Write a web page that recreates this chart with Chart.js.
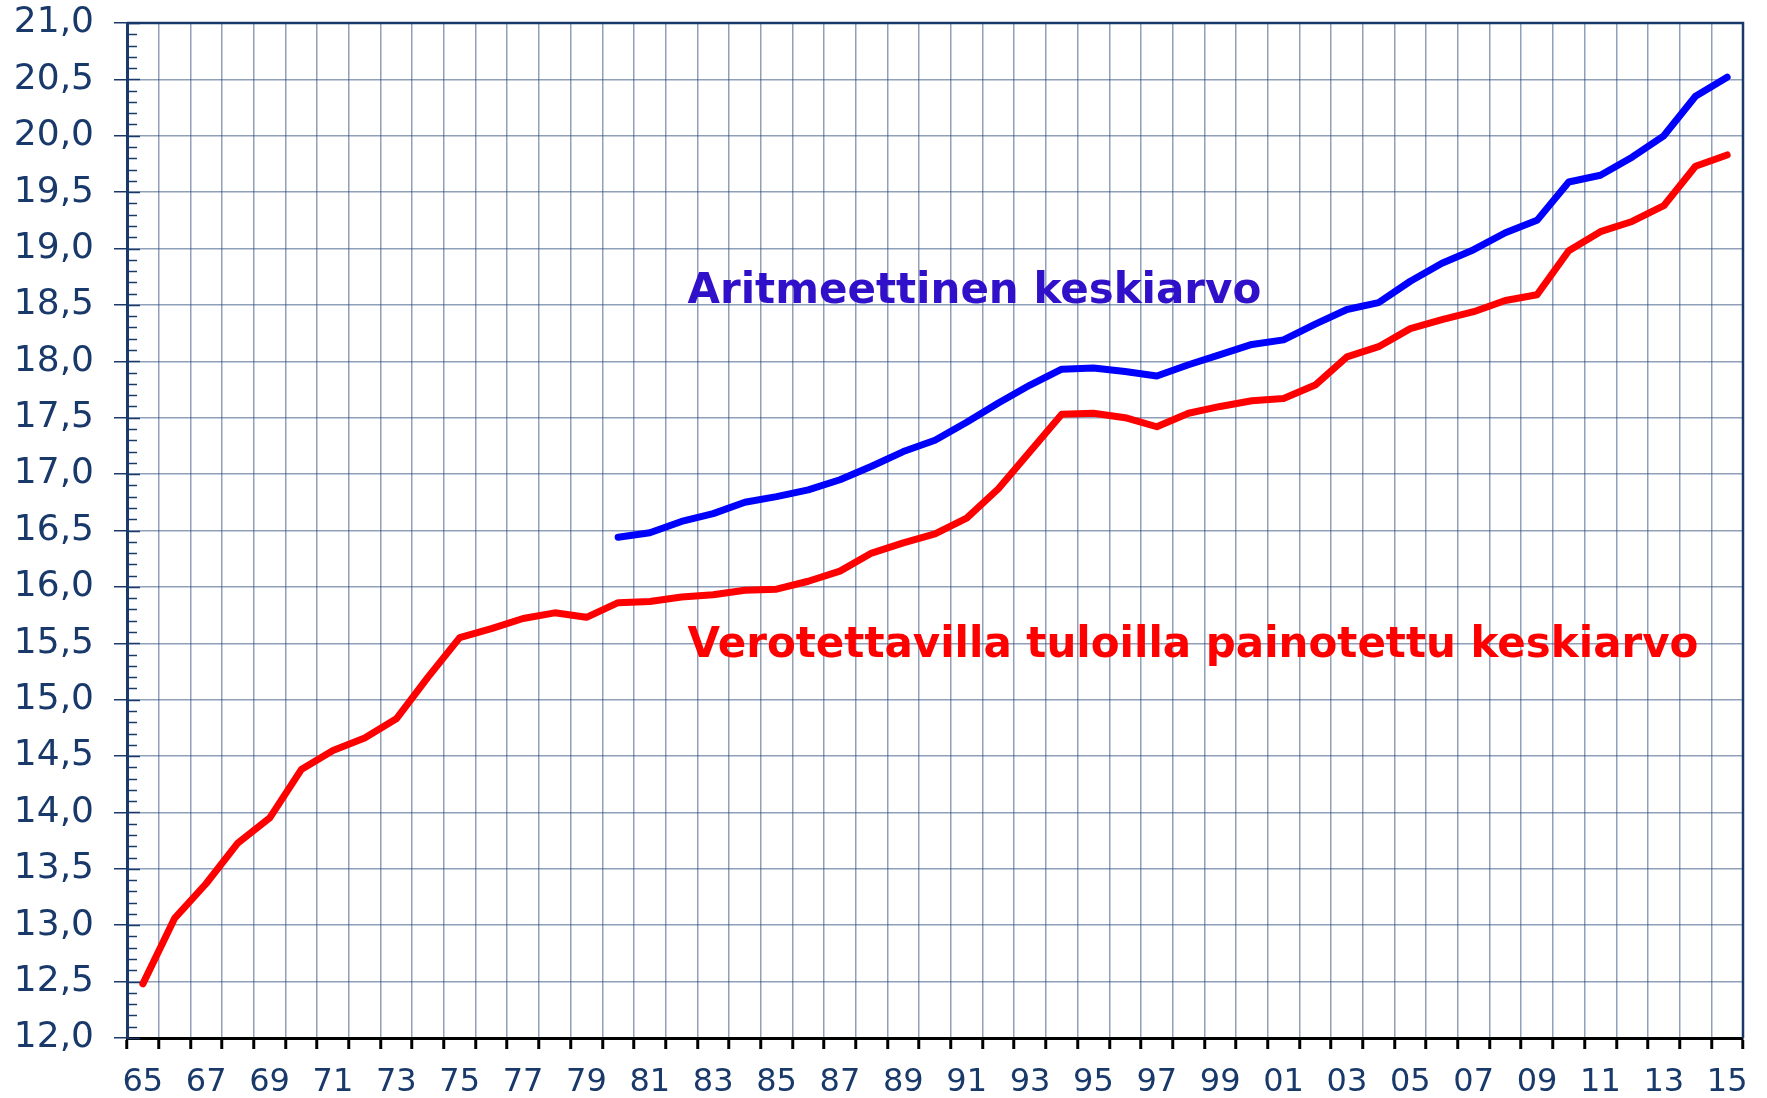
<!DOCTYPE html>
<html lang="fi">
<head>
<meta charset="UTF-8">
<title>Keskiarvot 1965-2015</title>
<script src="https://cdn.jsdelivr.net/npm/chart.js@4.4.1/dist/chart.umd.min.js"></script>
<style>
    html, body { margin: 0; padding: 0; background: #fff; }
    .chart-wrap { width: 1767px; height: 1098px; position: relative; }
</style>
</head>
<body>
<div class="chart-wrap"><canvas id="taxChart"></canvas></div>
<script>
// Vuodet 1965-2015 (kaksinumeroiset)
const years = ['65','66','67','68','69','70','71','72','73','74','75','76','77','78','79',
    '80','81','82','83','84','85','86','87','88','89','90','91','92','93','94','95','96','97','98','99',
    '00','01','02','03','04','05','06','07','08','09','10','11','12','13','14','15'];

// Verotettavilla tuloilla painotettu keskiarvo
const weightedAvg = [12.48, 13.06, 13.37, 13.73, 13.95, 14.38, 14.55, 14.66, 14.83, 15.20,
    15.55, 15.63, 15.72, 15.77, 15.73, 15.86, 15.87, 15.91, 15.93, 15.97,
    15.98, 16.05, 16.14, 16.30, 16.39, 16.47, 16.61, 16.87, 17.20, 17.53,
    17.54, 17.50, 17.42, 17.54, 17.60, 17.65, 17.67, 17.79, 18.04, 18.13,
    18.29, 18.37, 18.44, 18.54, 18.59, 18.98, 19.15, 19.24, 19.38, 19.73, 19.83];

// Aritmeettinen keskiarvo (alkaa 1980)
const arithAvg = [null, null, null, null, null, null, null, null, null, null,
    null, null, null, null, null, 16.44, 16.48, 16.58, 16.65, 16.75,
    16.80, 16.86, 16.95, 17.07, 17.20, 17.30, 17.46, 17.63, 17.79, 17.93,
    17.94, 17.91, 17.87, 17.97, 18.06, 18.15, 18.19, 18.33, 18.46, 18.52,
    18.71, 18.87, 18.99, 19.14, 19.25, 19.59, 19.65, 19.81, 20.00, 20.35, 20.52];

const yMin = 12.0;
const yMax = 21.0;
const yStep = 0.5;

const navy = '#18396a';
const gridColor = 'rgba(35, 65, 115, 0.5)';
const fontFamily = "'DejaVu Sans', Verdana, sans-serif";

// Series labels drawn inside the plot
const seriesLabels = [
    { text: 'Aritmeettinen keskiarvo', color: '#3010c8', xIndex: 17, yValue: 18.52 },
    { text: 'Verotettavilla tuloilla painotettu keskiarvo', color: '#ff0000', xIndex: 17, yValue: 15.38 }
];

document.addEventListener('DOMContentLoaded', () => {

    // Frame, minor ticks and texts
    const framePlugin = {
        id: 'frame',
        afterDraw(chart) {
            const c = chart.ctx;
            const area = chart.chartArea;
            const yScale = chart.scales.y;
            const xScale = chart.scales.x;

            c.save();
            // top + right border
            c.strokeStyle = navy;
            c.lineWidth = 2.5;
            c.beginPath();
            c.moveTo(area.left, area.top);
            c.lineTo(area.right, area.top);
            c.lineTo(area.right, area.bottom);
            c.stroke();

            // ticks inside the y axis
            c.lineWidth = 1.5;
            for (let i = 0; i <= Math.round((yMax - yMin) * 10); i++) {
                const v = yMin + i / 10;
                const py = Math.round(yScale.getPixelForValue(v)) + 0.5;
                const len = (i % 5 === 0) ? 13 : 10;
                c.beginPath();
                c.moveTo(area.left, py);
                c.lineTo(area.left + len, py);
                c.stroke();
            }

            // series texts
            c.font = "bold 42px " + fontFamily;
            c.textBaseline = 'alphabetic';
            c.textAlign = 'left';
            seriesLabels.forEach(lbl => {
                c.fillStyle = lbl.color;
                const px = xScale.getPixelForValue(lbl.xIndex) + 6;
                const py = yScale.getPixelForValue(lbl.yValue);
                c.fillText(lbl.text, px, py);
            });
            c.restore();
        }
    };

    const ctx = document.getElementById('taxChart').getContext('2d');
    const taxChart = new Chart(ctx, {
        type: 'line',
        data: {
            labels: years,
            datasets: [
                {
                    label: 'Aritmeettinen keskiarvo',
                    data: arithAvg,
                    borderColor: '#0000ff',
                    borderWidth: 7,
                    pointRadius: 0,
                    tension: 0,
                    borderCapStyle: 'round',
                    borderJoinStyle: 'round',
                    spanGaps: false
                },
                {
                    label: 'Verotettavilla tuloilla painotettu keskiarvo',
                    data: weightedAvg,
                    borderColor: '#ff0000',
                    borderWidth: 7,
                    pointRadius: 0,
                    tension: 0,
                    borderCapStyle: 'round',
                    borderJoinStyle: 'round'
                }
            ]
        },
        options: {
            responsive: true,
            maintainAspectRatio: false,
            animation: false,
            layout: {
                padding: { left: 10, right: 24, top: 23, bottom: 0 }
            },
            plugins: {
                legend: { display: false },
                tooltip: { enabled: false }
            },
            scales: {
                x: {
                    type: 'category',
                    offset: true,
                    afterFit: (scale) => {
                        scale.height = 60;
                        scale.paddingLeft = 0;
                        scale.paddingRight = 0;
                    },
                    grid: {
                        offset: true,
                        color: gridColor,
                        lineWidth: 1.5,
                        drawTicks: true,
                        tickLength: 11,
                        tickColor: '#000',
                        tickWidth: 3
                    },
                    border: { color: '#000', width: 3 },
                    ticks: {
                        autoSkip: false,
                        maxRotation: 0,
                        padding: 14,
                        color: navy,
                        font: { family: fontFamily, size: 32 },
                        callback: function(value, index) {
                            return index % 2 === 0 ? this.getLabelForValue(value) : '';
                        }
                    }
                },
                y: {
                    min: yMin,
                    max: yMax,
                    afterFit: (scale) => {
                        scale.width = 117;
                        scale.paddingTop = 0;
                        scale.paddingBottom = 0;
                    },
                    grid: {
                        color: gridColor,
                        lineWidth: 1.5,
                        drawTicks: true,
                        tickLength: 13,
                        tickColor: navy,
                        tickWidth: 1.5
                    },
                    border: { color: navy, width: 3 },
                    ticks: {
                        stepSize: yStep,
                        padding: 20,
                        color: navy,
                        font: { family: fontFamily, size: 36 },
                        callback: (v) => Number(v).toFixed(1).replace('.', ',')
                    }
                }
            }
        },
        plugins: [framePlugin]
    });
});
</script>
</body>
</html>
